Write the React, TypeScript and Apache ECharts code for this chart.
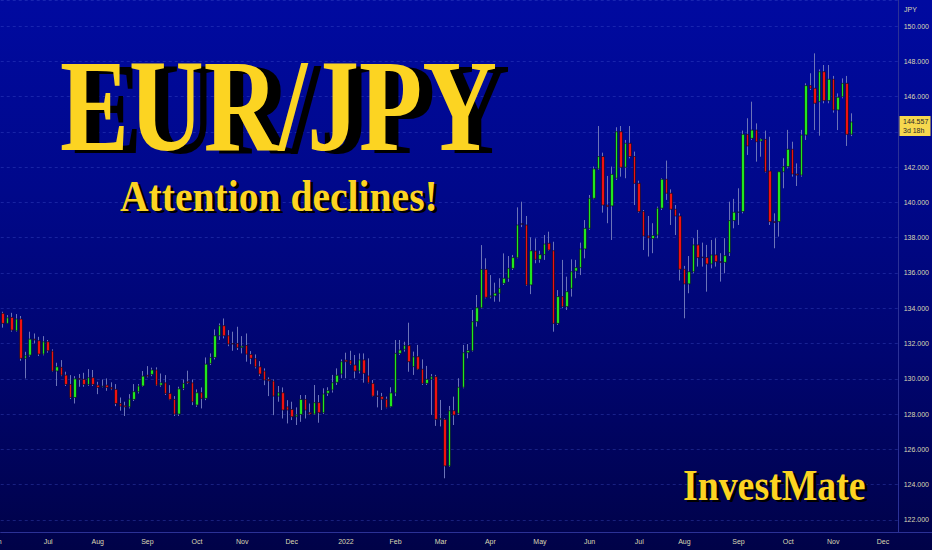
import React, { useEffect, useRef } from "react";
import * as echarts from "echarts";

// each candle: [open, close, low, high]
type Candle = [number, number, number, number];

const candlesJun2021toSep2021: Candle[] = [
  [133.71, 133.14, 132.9, 133.8], [133.14, 133.46, 133.14, 133.61], [133.48, 132.76, 132.67, 133.74],
  [132.72, 133.39, 132.67, 133.67], [133.39, 131.16, 131.02, 133.56], [131.16, 131.31, 130.02, 131.53],
  [131.34, 132.25, 131.25, 132.67], [132.25, 132.2, 132.0, 132.57], [132.16, 131.4, 131.29, 132.38],
  [131.4, 132.1, 131.33, 132.42], [132.1, 131.59, 131.48, 132.2], [131.57, 130.44, 130.4, 131.67],
  [130.44, 130.68, 129.59, 130.91], [130.65, 130.21, 130.15, 131.06], [130.21, 129.68, 129.59, 130.4],
  [129.68, 128.94, 128.85, 130.21], [128.94, 130.0, 128.6, 130.15], [130.02, 129.97, 129.55, 130.27],
  [129.97, 129.68, 129.55, 130.34], [129.68, 130.06, 129.6, 130.55], [130.06, 129.68, 129.59, 130.5],
  [129.64, 129.51, 129.13, 129.83], [129.55, 129.58, 129.51, 129.96], [129.64, 129.51, 129.32, 130.02],
  [129.51, 129.42, 129.36, 129.8], [129.4, 128.6, 128.45, 129.7], [128.6, 128.45, 128.19, 128.94],
  [128.47, 128.41, 127.89, 128.7], [128.41, 128.85, 128.32, 129.13], [128.83, 129.27, 128.74, 129.7],
  [129.27, 129.59, 129.17, 129.7], [129.59, 130.15, 129.55, 130.44], [130.2, 130.15, 130.08, 130.72],
  [130.25, 130.5, 130.15, 130.63], [130.5, 129.64, 129.59, 130.65], [129.64, 129.77, 129.55, 130.3],
  [129.77, 129.17, 129.08, 130.21], [129.17, 128.83, 128.79, 129.64], [128.83, 128.0, 127.89, 129.02],
  [128.0, 129.43, 127.89, 129.55], [129.45, 129.74, 129.36, 129.96], [129.83, 129.77, 129.7, 130.46],
  [129.77, 128.7, 128.51, 129.96],
];

const candlesOct2021toJan2022: Candle[] = [
  [128.51, 129.21, 128.41, 129.4], [129.21, 128.89, 128.32, 129.51], [128.89, 130.83, 128.79, 131.21],
  [130.87, 131.21, 130.78, 131.44], [131.21, 132.44, 131.1, 132.8], [132.44, 133.01, 132.2, 133.14],
  [133.01, 132.44, 132.29, 133.42], [132.44, 131.97, 131.85, 132.76], [132.0, 131.97, 131.59, 132.67],
  [132.0, 131.78, 131.63, 132.95], [131.78, 131.85, 131.44, 132.42], [131.89, 131.4, 130.97, 132.57],
  [131.38, 131.16, 130.83, 131.57], [131.14, 130.68, 130.59, 131.38], [130.68, 130.27, 130.15, 131.0],
  [130.44, 129.93, 129.64, 130.59], [129.96, 129.89, 129.02, 130.08], [129.87, 129.02, 127.94, 129.96],
  [129.02, 129.21, 128.7, 129.59], [129.21, 128.23, 127.75, 129.51], [128.41, 128.23, 127.47, 128.79],
  [128.26, 127.85, 127.66, 128.7], [127.85, 127.96, 127.38, 128.38], [127.98, 128.83, 127.56, 129.08],
  [128.83, 128.23, 127.75, 129.08], [128.08, 128.0, 127.95, 128.6], [128.0, 128.65, 127.95, 129.65],
  [128.65, 128.08, 127.51, 129.08], [128.08, 129.14, 128.0, 129.46], [129.18, 129.33, 129.03, 129.52],
  [129.37, 129.78, 129.22, 130.22], [129.8, 130.2, 129.65, 130.59], [130.27, 130.97, 130.03, 131.1],
  [131.06, 130.97, 130.03, 131.48], [131.03, 130.84, 130.78, 131.59], [130.78, 130.44, 130.03, 131.35],
  [130.44, 131.07, 130.31, 131.44], [131.07, 130.31, 129.78, 131.44], [130.16, 129.78, 129.74, 131.16],
  [129.74, 129.02, 128.99, 129.93], [129.03, 129.0, 128.38, 129.33], [128.99, 128.84, 128.23, 129.2],
  [128.84, 128.38, 128.33, 128.99], [128.42, 129.2, 128.38, 129.52], [129.2, 131.44, 129.02, 132.2],
];

const candlesFeb2022toMay2022: Candle[] = [
  [131.44, 131.63, 131.35, 132.2], [131.67, 131.88, 131.54, 132.1], [131.88, 130.97, 130.4, 133.18],
  [130.69, 131.25, 130.22, 131.54], [131.25, 130.54, 130.5, 131.92], [130.54, 129.74, 129.65, 131.1],
  [129.74, 129.97, 129.65, 130.73], [129.97, 130.12, 127.95, 130.27], [130.12, 127.7, 127.33, 130.22],
  [127.7, 127.75, 127.3, 128.8], [127.7, 125.06, 124.36, 127.76], [125.06, 128.19, 125.0, 128.46],
  [128.19, 127.95, 127.38, 128.99], [128.04, 129.52, 127.95, 130.03], [129.52, 131.48, 129.46, 131.92],
  [131.48, 131.6, 131.16, 131.97], [131.59, 133.24, 131.54, 133.9], [133.24, 134.03, 132.96, 134.75],
  [134.03, 136.2, 133.99, 137.58], [136.2, 134.62, 134.56, 136.83], [134.65, 134.7, 134.56, 135.88],
  [134.7, 134.85, 134.37, 135.45], [134.85, 135.13, 134.37, 135.7], [135.41, 135.7, 135.32, 137.11],
  [135.7, 136.26, 135.5, 136.96], [136.26, 136.87, 136.17, 137.02], [136.87, 138.72, 136.83, 139.72],
  [138.78, 138.77, 138.6, 140.04], [138.72, 135.32, 135.26, 139.23], [135.32, 137.26, 134.8, 138.02],
  [137.24, 136.77, 136.55, 137.96], [136.77, 137.04, 136.58, 137.26], [137.04, 137.64, 136.74, 138.15],
  [137.68, 137.3, 137.26, 138.34], [137.26, 133.14, 132.67, 137.77], [133.14, 134.66, 133.05, 135.03],
  [134.66, 134.09, 134.0, 136.74], [134.09, 134.94, 133.9, 135.79], [135.13, 136.07, 134.66, 136.77],
  [136.11, 136.3, 135.7, 136.74], [136.3, 137.36, 135.88, 137.72], [137.36, 138.53, 136.83, 139.0],
];

const candlesJun2022toNov2022: Candle[] = [
  [138.53, 140.23, 138.44, 140.42], [140.23, 141.9, 140.18, 142.03], [141.9, 142.6, 141.84, 144.33],
  [142.6, 139.85, 139.42, 142.82], [139.85, 139.76, 138.82, 141.5], [139.8, 141.59, 137.87, 142.03],
  [141.37, 144.01, 141.27, 144.26], [144.01, 141.99, 141.46, 144.33], [141.99, 143.35, 141.37, 143.54],
  [143.35, 142.6, 142.5, 144.33], [142.6, 141.08, 139.85, 142.88], [141.08, 139.48, 139.42, 141.23],
  [139.48, 138.1, 137.3, 139.57], [138.1, 137.99, 136.93, 139.23], [137.95, 138.12, 137.12, 138.82],
  [138.15, 139.67, 137.97, 139.76], [139.67, 141.31, 139.57, 141.37], [141.31, 140.52, 140.14, 142.37],
  [140.52, 139.61, 138.72, 140.74], [139.61, 139.23, 138.15, 139.85], [139.23, 136.21, 135.57, 139.38],
  [136.21, 135.38, 133.43, 136.4], [135.38, 136.07, 134.85, 136.96], [136.07, 137.59, 135.98, 137.97],
  [137.59, 136.87, 136.36, 138.44], [136.9, 136.87, 136.36, 137.72], [136.87, 136.51, 134.94, 137.59],
  [136.51, 137.02, 136.26, 137.87], [137.02, 136.64, 136.36, 137.97], [136.64, 136.6, 135.51, 137.12],
  [136.6, 136.98, 135.98, 137.97], [137.15, 138.97, 136.96, 140.04], [138.97, 139.44, 138.53, 140.2],
  [139.44, 139.45, 138.72, 140.8], [139.48, 143.86, 139.38, 144.07], [143.86, 143.2, 142.69, 144.77],
  [143.63, 144.1, 143.54, 145.71], [144.1, 143.44, 142.31, 144.48], [143.48, 143.59, 142.59, 143.63],
  [143.57, 141.74, 141.69, 144.07], [141.78, 138.91, 138.72, 143.72], [138.91, 138.86, 137.4, 139.38],
  [138.91, 141.74, 138.06, 141.74], [141.74, 142.03, 140.8, 142.5], [142.03, 143.01, 141.93, 144.11],
  [143.01, 141.61, 141.46, 143.44], [141.61, 141.55, 140.93, 142.21], [141.55, 143.82, 141.46, 144.11],
  [143.82, 146.62, 143.54, 146.75], [146.62, 146.47, 146.37, 147.32], [146.47, 145.62, 144.1, 148.45],
  [145.71, 147.41, 143.78, 147.54], [147.41, 145.77, 145.62, 147.79], [145.77, 146.98, 145.62, 147.79],
  [146.98, 145.24, 145.09, 147.17], [145.24, 145.96, 144.1, 146.18], [145.99, 146.75, 145.9, 147.03],
  [146.75, 143.86, 143.2, 147.17], [143.86, 144.56, 143.76, 145.05],
];

// total bar slots on the time axis (candles + empty future space)
const slotCount = 199;

// month tick labels: [bar slot index, label]
const monthTicks: [number, string][] = [
  [10, "Jul"], [21, "Aug"], [32, "Sep"], [43, "Oct"], [53, "Nov"], [64, "Dec"],
  [76, "2022"], [87, "Feb"], [97, "Mar"], [108, "Apr"], [119, "May"], [130, "Jun"],
  [141, "Jul"], [151, "Aug"], [163, "Sep"], [174, "Oct"], [184, "Nov"], [195, "Dec"],
];

// visible price range of the pane and tick step
const yMin = 121.315;
const yMax = 151.474;
const yStep = 2;
const lastPrice = 144.557;
const countdown = "3d 18h";
const currencyLabel = "JPY";
const titleText = "EUR/JPY";
const subtitleText = "Attention declines!";
const brandText = "InvestMate";

const YELLOW = "#fcd422";
const LABEL = "#dcd8b4";
const WICK = "#6c74b8";
const AXIS_LINE = "#2b3196";

export default function App() {
  const ref = useRef<HTMLDivElement>(null);

  useEffect(() => {
    document.body.style.margin = "0";
    if (!ref.current) return;
    const chart = echarts.init(ref.current, null, { renderer: "svg" });

    const candles: Candle[] = [
      ...candlesJun2021toSep2021,
      ...candlesOct2021toJan2022,
      ...candlesFeb2022toMay2022,
      ...candlesJun2022toNov2022,
    ];
    const categories = Array.from({ length: slotCount }, (_, i) => `slot${i}`);
    const labelMap = new Map<number, string>(monthTicks);
    const bodies = candles.map(([o, c]) => [o, c, Math.min(o, c), Math.max(o, c)]);
    const axisLineY = 532;

    chart.setOption({
      animation: false,
      backgroundColor: "transparent",
      grid: {
        left: 0,
        right: 33,
        top: 0,
        bottom: 550 - axisLineY,
        containLabel: false,
      },
      xAxis: {
        type: "category",
        data: categories,
        boundaryGap: true,
        axisLine: { show: true, lineStyle: { color: AXIS_LINE, width: 1 } },
        axisTick: { show: false },
        splitLine: { show: false },
        axisLabel: {
          interval: 0,
          color: LABEL,
          fontSize: 7,
          fontFamily: "Liberation Sans",
          margin: 6,
          formatter: (_v: string, i: number) => labelMap.get(i) ?? "",
        },
      },
      yAxis: {
        type: "value",
        position: "right",
        min: yMin,
        max: yMax,
        minInterval: yStep,
        maxInterval: yStep,
        scale: false,
        axisLine: { show: true, lineStyle: { color: AXIS_LINE, width: 1 } },
        axisTick: { show: false },
        axisLabel: {
          color: LABEL,
          fontSize: 7,
          fontFamily: "Liberation Sans",
          margin: 5,
          showMinLabel: false,
          showMaxLabel: false,
          formatter: (v: number) =>
            Math.abs(v % yStep) > 1e-6 || Math.abs(v - lastPrice) < 1 ? "" : v.toFixed(3),
        },
        splitLine: {
          show: true,
          lineStyle: { color: "rgba(70,90,210,0.35)", type: [3, 3], width: 1 },
        },
      },
      series: [
        {
          name: "wicks",
          type: "candlestick",
          data: candles,
          barWidth: 1,
          silent: true,
          itemStyle: {
            color: WICK,
            color0: WICK,
            borderColor: WICK,
            borderColor0: WICK,
            borderWidth: 1,
          },
        },
        {
          name: "bodies",
          type: "candlestick",
          data: bodies,
          barWidth: 3,
          silent: true,
          itemStyle: {
            color: "#1fe81f",
            color0: "#f01010",
            borderColor: "#0c0c2c",
            borderColor0: "#0c0c2c",
            borderWidth: 0.7,
          },
        },
      ],
    });

    const py = chart.convertToPixel({ yAxisIndex: 0 }, lastPrice) as number;

    const textEl = (
      text: string,
      x: number,
      y: number,
      size: number,
      fill: string,
      scaleX: number,
      z: number
    ) => ({
      type: "text",
      x,
      y,
      scaleX,
      z,
      silent: true,
      style: {
        text,
        fill,
        fontSize: size,
        fontWeight: "bold",
        fontFamily: "Liberation Serif",
        textAlign: "left",
        textVerticalAlign: "middle",
      },
    });

    chart.setOption({
      graphic: [
        textEl(titleText, 73, 109.5, 131, "#000000", 0.79, 100),
        textEl(titleText, 60, 106.5, 131, YELLOW, 0.79, 101),
        textEl(subtitleText, 123, 198.5, 44, "#000000", 0.9, 100),
        textEl(subtitleText, 120, 196.5, 44, YELLOW, 0.9, 101),
        textEl(brandText, 686, 487, 45, "#000000", 0.84, 100),
        textEl(brandText, 683, 485, 45, YELLOW, 0.84, 101),
        {
          type: "line",
          silent: true,
          z: 50,
          shape: { x1: 899, y1: axisLineY + 0.5, x2: 932, y2: axisLineY + 0.5 },
          style: { stroke: AXIS_LINE, lineWidth: 1 },
        },
        {
          type: "text",
          x: 904,
          y: 9,
          z: 100,
          silent: true,
          style: {
            text: currencyLabel,
            fill: LABEL,
            fontSize: 7,
            fontFamily: "Liberation Sans",
            textAlign: "left",
            textVerticalAlign: "middle",
          },
        },
        {
          type: "text",
          x: -4,
          y: 541.5,
          z: 100,
          silent: true,
          style: {
            text: "Jun",
            fill: LABEL,
            fontSize: 7,
            fontFamily: "Liberation Sans",
            textAlign: "center",
            textVerticalAlign: "middle",
          },
        },
        {
          type: "rect",
          z: 110,
          silent: true,
          shape: { x: 899.5, y: py - 6, width: 31, height: 20 },
          style: { fill: "#f6d84e" },
        },
        {
          type: "text",
          x: 903,
          y: py - 0.5,
          z: 111,
          silent: true,
          style: {
            text: lastPrice.toFixed(3),
            fill: "#2a2a2a",
            fontSize: 7,
            fontFamily: "Liberation Sans",
            textAlign: "left",
            textVerticalAlign: "middle",
          },
        },
        {
          type: "text",
          x: 903,
          y: py + 8.5,
          z: 111,
          silent: true,
          style: {
            text: countdown,
            fill: "#2a2a2a",
            fontSize: 7,
            fontFamily: "Liberation Sans",
            textAlign: "left",
            textVerticalAlign: "middle",
          },
        },
      ],
    });

    return () => chart.dispose();
  }, []);

  return (
    <div
      ref={ref}
      style={{
        position: "absolute",
        left: 0,
        top: 0,
        width: 932,
        height: 550,
        background: "linear-gradient(180deg, #000aa0 0%, #00088a 35%, #000570 65%, #000248 100%)",
      }}
    />
  );
}
